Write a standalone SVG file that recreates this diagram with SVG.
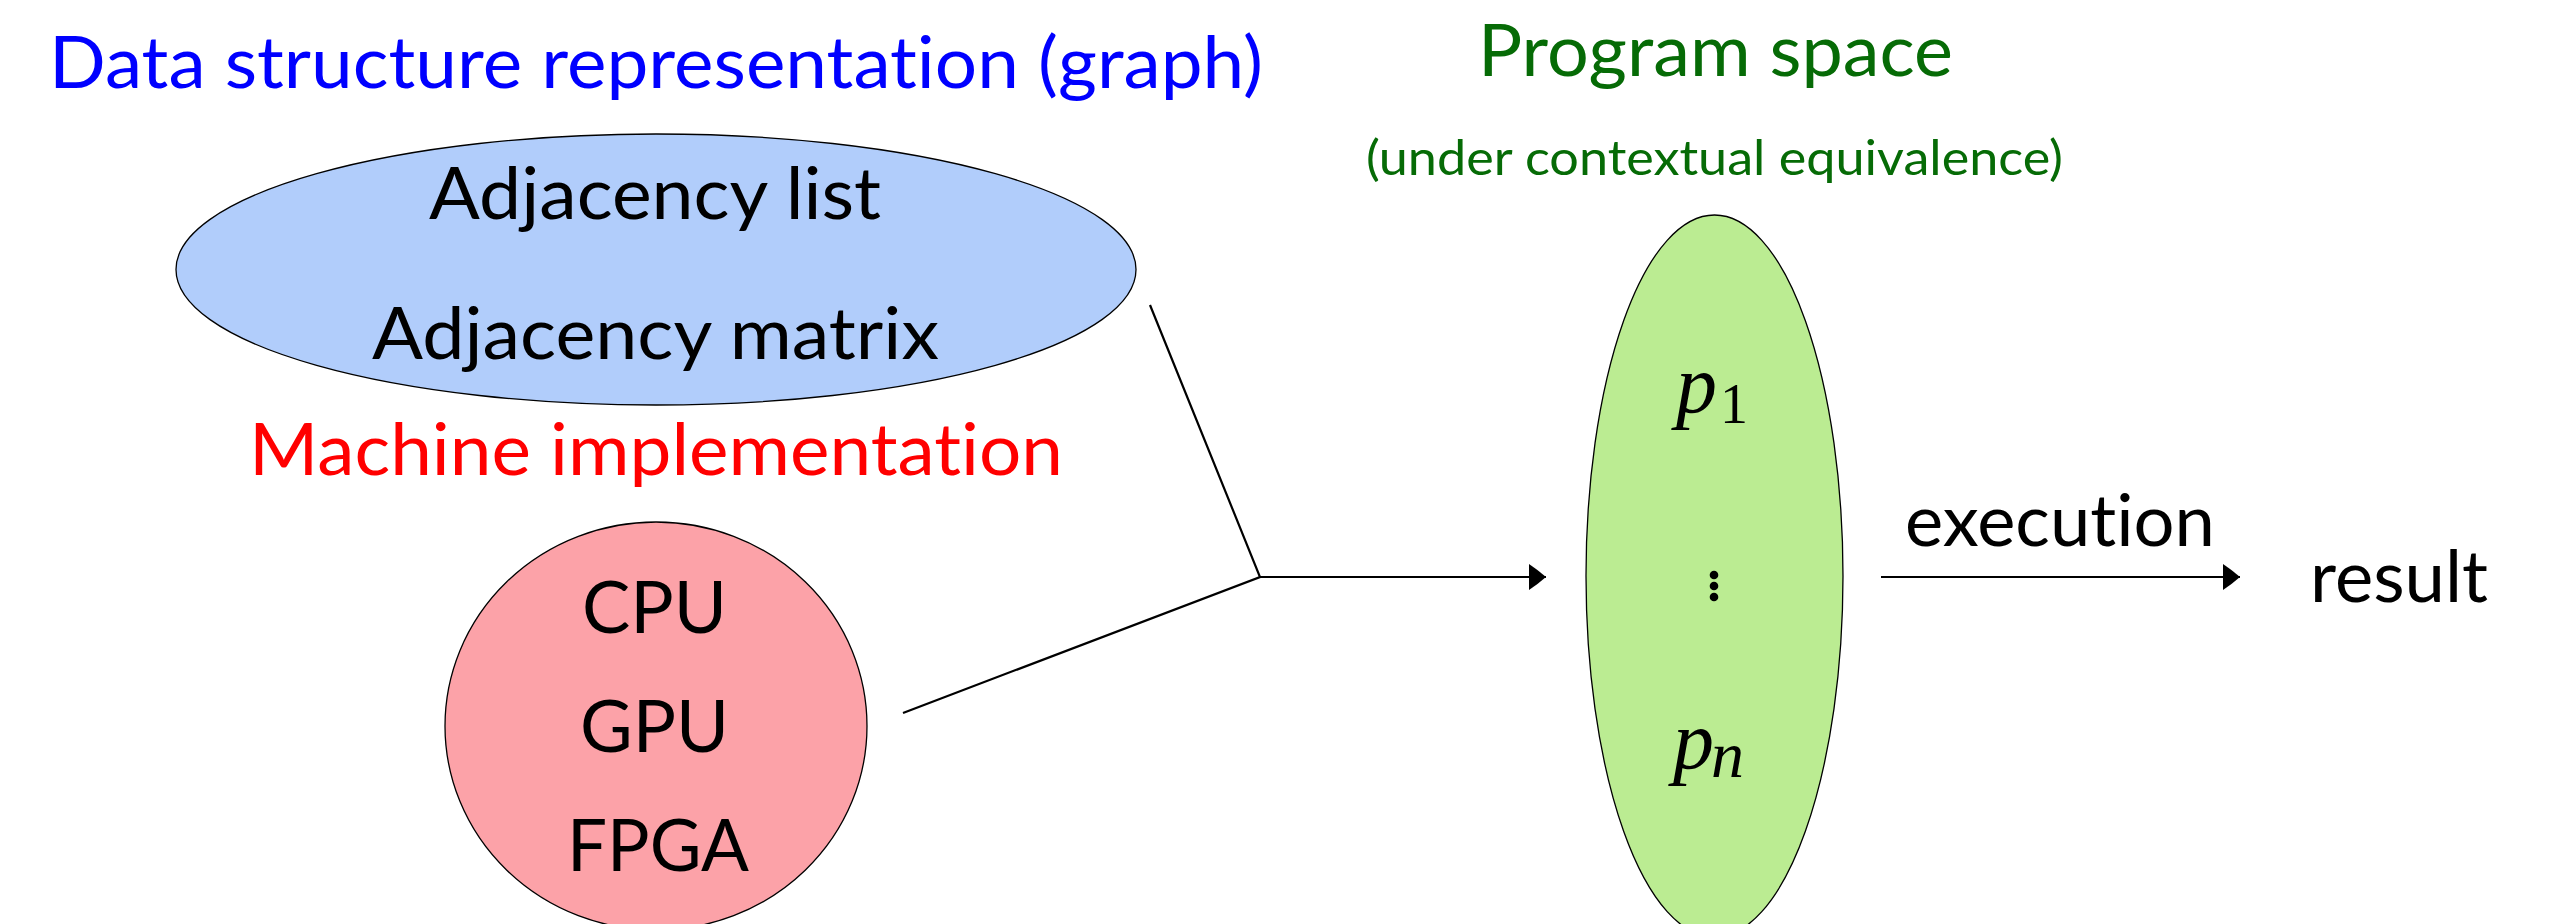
<svg xmlns="http://www.w3.org/2000/svg" width="2560" height="924" viewBox="0 0 2560 924">
  <style>
    .lbl { font-family: Lato, "Open Sans", "Liberation Sans", sans-serif; font-size: 72px; fill: #000; font-variant-ligatures: none; font-feature-settings: "liga" 0, "clig" 0; }
    .sub { font-size: 48px; }
    .math { font-family: "Liberation Serif", "DejaVu Serif", serif; fill: #000; }
    .shape { stroke: #000; stroke-width: 1.3; }
    .wire { fill: none; stroke: #000; stroke-width: 2.2; }
  </style>
  <defs>
    <marker id="head" markerUnits="userSpaceOnUse" markerWidth="20" markerHeight="28" refX="17" refY="13" orient="auto">
      <path d="M0,0 Q9,6 17,13 Q9,20 0,26 Z" fill="#000"/>
    </marker>
  </defs>

  <rect width="2560" height="924" fill="#fff"/>

  <!-- headings -->
  <g id="heading-data">
    <text class="lbl" x="49" y="88" style="fill:#0000ff" textLength="1214" lengthAdjust="spacingAndGlyphs">Data structure representation (graph)</text>
  </g>
  <g id="heading-machine">
    <text class="lbl" x="249" y="475" style="fill:#ff0000" textLength="814" lengthAdjust="spacingAndGlyphs">Machine implementation</text>
  </g>
  <g id="heading-program">
    <text class="lbl" x="1478" y="76" style="fill:#066b06" textLength="475" lengthAdjust="spacingAndGlyphs">Program space</text>
    <text class="lbl sub" x="1366" y="175" style="fill:#066b06" textLength="697" lengthAdjust="spacingAndGlyphs">(under contextual equivalence)</text>
  </g>

  <!-- data structure node -->
  <g id="node-graph">
    <ellipse class="shape" cx="656" cy="269.5" rx="480" ry="135.5" fill="#b1cdfb"/>
    <text class="lbl" x="429" y="219" textLength="452" lengthAdjust="spacingAndGlyphs">Adjacency list</text>
    <text class="lbl" x="372" y="359" textLength="567" lengthAdjust="spacingAndGlyphs">Adjacency matrix</text>
  </g>

  <!-- machine node -->
  <g id="node-machine">
    <ellipse class="shape" cx="656" cy="726" rx="211" ry="204" fill="#fca2a8"/>
    <text class="lbl" x="582" y="633" textLength="145" lengthAdjust="spacingAndGlyphs">CPU</text>
    <text class="lbl" x="580" y="752" textLength="149" lengthAdjust="spacingAndGlyphs">GPU</text>
    <text class="lbl" x="567" y="871" textLength="182" lengthAdjust="spacingAndGlyphs">FPGA</text>
  </g>

  <!-- program space node -->
  <g id="node-programs">
    <ellipse class="shape" cx="1714.5" cy="576" rx="128.5" ry="361" fill="#bbec92"/>
    <text class="math" x="1676" y="412" font-size="82" font-style="italic">p</text>
    <text class="math" x="1720" y="423" font-size="56">1</text>
    <circle cx="1714" cy="575" r="4.3" fill="#000"/>
    <circle cx="1714" cy="586" r="4.3" fill="#000"/>
    <circle cx="1714" cy="597" r="4.3" fill="#000"/>
    <text class="math" x="1673" y="768" font-size="82" font-style="italic">p</text>
    <text class="math" x="1711" y="777" font-size="66" font-style="italic">n</text>
  </g>

  <!-- result node -->
  <g id="node-result">
    <text class="lbl" x="2310" y="602" textLength="178" lengthAdjust="spacingAndGlyphs">result</text>
  </g>

  <!-- connectors -->
  <g id="connectors">
    <polyline class="wire" points="1150,305 1260,577 903,713"/>
    <line class="wire" x1="1260" y1="577" x2="1546" y2="577" marker-end="url(#head)"/>
    <line class="wire" x1="1881" y1="577" x2="2240" y2="577" marker-end="url(#head)"/>
    <text class="lbl" x="1905" y="546" textLength="310" lengthAdjust="spacingAndGlyphs">execution</text>
  </g>
</svg>
